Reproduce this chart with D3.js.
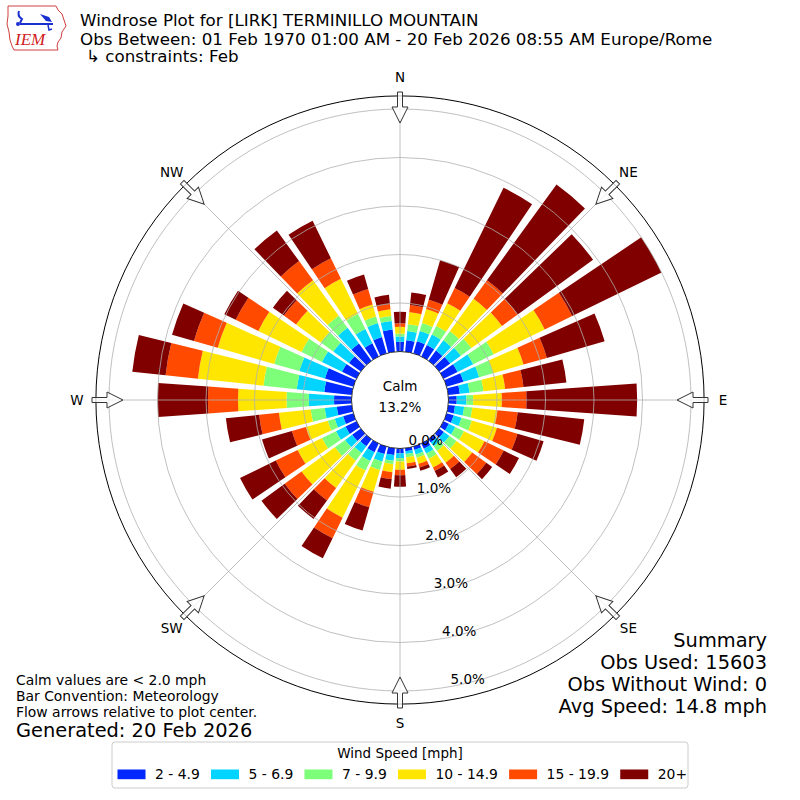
<!DOCTYPE html>
<html><head><meta charset="utf-8">
<script src="https://cdn.jsdelivr.net/npm/d3@7"></script>
<style>body{margin:0;background:#fff;} svg{display:block;font-family:"DejaVu Sans",sans-serif;}</style>
</head><body><svg id="c" width="800" height="800"></svg>
<script>
// ---------------- data ----------------
const directions = [0,10,20,30,40,50,60,70,80,90,100,110,120,130,140,150,160,170,180,190,200,210,220,230,240,250,260,270,280,290,300,310,320,330,340,350];
const speedBins = ["2 - 4.9","5 - 6.9","7 - 9.9","10 - 14.9","15 - 19.9","20+"];
const binColors = ["#0028ff","#00d4ff","#7dff7a","#ffe600","#ff4a00","#800000"];
// percent frequency per direction, for each speed bin
const speed2to5   = [0.20,0.24,0.26,0.26,0.26,0.28,0.32,0.36,0.24,0.17,0.14,0.15,0.12,0.12,0.08,0.12,0.07,0.06,0.10,0.14,0.16,0.20,0.18,0.22,0.25,0.22,0.31,0.36,0.57,0.61,0.33,0.30,0.44,0.30,0.35,0.46];
const speed5to7   = [0.11,0.19,0.22,0.24,0.26,0.27,0.36,0.34,0.20,0.20,0.19,0.17,0.15,0.14,0.10,0.11,0.10,0.06,0.10,0.12,0.16,0.20,0.17,0.18,0.22,0.18,0.25,0.52,0.57,0.55,0.46,0.40,0.40,0.33,0.30,0.18];
const speed7to10  = [0.06,0.14,0.17,0.20,0.23,0.27,0.47,0.30,0.29,0.14,0.17,0.22,0.20,0.18,0.12,0.12,0.07,0.07,0.07,0.07,0.18,0.22,0.20,0.26,0.32,0.15,0.29,0.46,0.69,0.54,0.47,0.32,0.31,0.35,0.14,0.10];
const speed10to15 = [0.14,0.25,0.30,0.52,0.83,0.78,1.17,0.65,0.45,0.59,0.52,0.54,0.47,0.40,0.30,0.20,0.13,0.12,0.17,0.17,0.47,1.08,0.69,0.85,0.56,0.47,0.66,1.00,1.36,1.21,0.99,0.63,0.90,0.80,0.26,0.14];
const speed15to20 = [0.07,0.15,0.20,0.35,0.47,0.40,0.63,0.50,0.38,0.51,0.42,0.44,0.44,0.36,0.16,0.08,0.08,0.07,0.11,0.14,0.33,0.47,0.32,0.43,0.50,0.30,0.41,0.62,0.67,0.51,0.52,0.31,0.49,0.47,0.33,0.11];
const speed20plus = [0.24,0.26,0.85,2.30,2.44,1.92,2.05,1.24,0.89,2.28,1.38,0.56,0.35,0.15,0.21,0.15,0.07,0.05,0.24,0.20,0.50,0.46,0.47,0.59,0.82,0.64,0.69,1.04,0.69,0.47,0.26,0.28,0.78,0.86,0.31,0.19];
const radialTicks = [0,1,2,3,4,5];
const compassLabels = ["N","NE","E","SE","S","SW","W","NW"];
const calmPct = 13.2;
const titleLines = ["Windrose Plot for [LIRK] TERMINILLO MOUNTAIN",
  "Obs Between: 01 Feb 1970 01:00 AM - 20 Feb 2026 08:55 AM Europe/Rome",
  "\u21B3 constraints: Feb"];
const summaryLines = ["Summary","Obs Used: 15603","Obs Without Wind: 0","Avg Speed: 14.8 mph"];
const noteLines = ["Calm values are < 2.0 mph","Bar Convention: Meteorology","Flow arrows relative to plot center."];
const generatedText = "Generated: 20 Feb 2026";

// ---------------- build ----------------
const svg = d3.select("#c");
const cx = 400, cy = 400;
const rScale = d3.scaleLinear().domain([0, 5]).range([48.5, 291]);
const rMax = 5.27;
const rad = d => d * Math.PI / 180;
const g = svg.append("g").attr("transform", `translate(${cx},${cy})`);

const series = [speed2to5, speed5to7, speed7to10, speed10to15, speed15to20, speed20plus];
const table = directions.map((d, i) => {
  const o = {dir: d};
  speedBins.forEach((k, j) => o[k] = series[j][i]);
  return o;
});
const stacked = d3.stack().keys(speedBins)(table);
const halfW = 4;
const arc = d3.arc()
  .innerRadius(d => rScale(d[0]))
  .outerRadius(d => rScale(d[1]))
  .startAngle(d => rad(d.data.dir - halfW))
  .endAngle(d => rad(d.data.dir + halfW));

stacked.forEach((s, j) => {
  g.append("g").selectAll("path").data(s).join("path")
    .attr("d", arc).attr("fill", binColors[j]);
});

// grid
g.append("g").selectAll("circle").data(radialTicks.slice(1)).join("circle")
  .attr("r", d => rScale(d)).attr("fill", "none").attr("stroke", "#b0b0b0").attr("stroke-width", 0.8);
g.append("g").selectAll("line").data(d3.range(0, 360, 45)).join("line")
  .attr("x1", d => rScale(0) * Math.sin(rad(d))).attr("y1", d => -rScale(0) * Math.cos(rad(d)))
  .attr("x2", d => rScale(rMax) * Math.sin(rad(d))).attr("y2", d => -rScale(rMax) * Math.cos(rad(d)))
  .attr("stroke", "#b0b0b0").attr("stroke-width", 0.8);
// calm hole
g.append("circle").attr("r", rScale(0)).attr("fill", "#fff").attr("stroke", "#000").attr("stroke-width", 0.8);
// outer circle
g.append("circle").attr("r", rScale(rMax)).attr("fill", "none").attr("stroke", "#000").attr("stroke-width", 1);

// radial tick labels
const labAng = rad(170);
g.append("g").selectAll("text").data(radialTicks).join("text")
  .attr("x", d => rScale(d) * Math.sin(labAng))
  .attr("y", d => -rScale(d) * Math.cos(labAng) - 3)
  .attr("font-size", 13.5).attr("text-anchor", "start")
  .text(d => d3.format(".1f")(d) + "%");

// compass labels
g.append("g").selectAll("text").data(compassLabels).join("text")
  .attr("x", (d, i) => 323 * Math.sin(rad(i * 45)))
  .attr("y", (d, i) => -323 * Math.cos(rad(i * 45)) + 5)
  .attr("font-size", 13.5).attr("text-anchor", "middle")
  .text(d => d);

// flow arrows
const arrowPts = [[-2.5,-308],[2.5,-308],[2.5,-293],[8,-293],[0,-277],[-8,-293],[-2.5,-293]];
g.append("g").selectAll("polygon").data(d3.range(0, 360, 45)).join("polygon")
  .attr("points", arrowPts.map(p => p.join(",")).join(" "))
  .attr("transform", d => `rotate(${d})`)
  .attr("fill", "#fff").attr("fill-opacity", 0.75).attr("stroke", "#333").attr("stroke-width", 1);

// calm text
g.append("text").attr("y", -9).attr("text-anchor", "middle").attr("font-size", 13.5).text("Calm");
g.append("text").attr("y", 12).attr("text-anchor", "middle").attr("font-size", 13.5).text(calmPct.toFixed(1) + "%");

// titles
const tsize = 16.7;
svg.append("text").attr("x", 80).attr("y", 25.5).attr("font-size", tsize).text(titleLines[0]);
svg.append("text").attr("x", 80).attr("y", 44.5).attr("font-size", tsize).text(titleLines[1]);
svg.append("text").attr("x", 86).attr("y", 61.5).attr("font-size", tsize).text(titleLines[2]);

// summary
svg.append("g").selectAll("text").data(summaryLines).join("text")
  .attr("x", 767).attr("y", (d, i) => 646.5 + i * 22).attr("text-anchor", "end")
  .attr("font-size", 19.4).text(d => d);

// notes
svg.append("g").selectAll("text").data(noteLines).join("text")
  .attr("x", 16).attr("y", (d, i) => 684.5 + i * 16).attr("font-size", 13.9).text(d => d);
svg.append("text").attr("x", 16).attr("y", 736.5).attr("font-size", 19.4).text(generatedText);

// legend
const leg = svg.append("g");
leg.append("rect").attr("x", 112).attr("y", 742).attr("width", 576).attr("height", 46).attr("rx", 3)
  .attr("fill", "#fff").attr("stroke", "#cccccc").attr("stroke-width", 1);
leg.append("text").attr("x", 400).attr("y", 757.5).attr("text-anchor", "middle").attr("font-size", 13.5).text("Wind Speed [mph]");
let lx = 117.5;
speedBins.forEach((k, j) => {
  leg.append("rect").attr("x", lx).attr("y", 769.5).attr("width", 28).attr("height", 9.7).attr("fill", binColors[j]);
  const t = leg.append("text").attr("x", lx + 37.5).attr("y", 779).attr("font-size", 13.9).text(k);
  lx = lx + 37.5 + t.node().getComputedTextLength() + 11.2;
});

// IEM logo (simplified)
const logo = svg.append("g");
logo.append("path").attr("d", "M8,6 L56,6 L58,10 L62,14 L64,20 L66,26 L62,32 L61,38 L58,42 L57,46 L58,50 L14,50 L12,46 L10,40 L9,32 L7,24 L8,16 Z")
  .attr("fill", "none").attr("stroke", "#d04040").attr("stroke-width", 1);
logo.append("path").attr("d", "M19,11 Q17,16 22,19 L20,23").attr("fill", "none").attr("stroke", "#1a2fd0").attr("stroke-width", 2);
logo.append("line").attr("x1", 20).attr("y1", 24).attr("x2", 53).attr("y2", 24).attr("stroke", "#1a2fd0").attr("stroke-width", 2);
logo.append("path").attr("d", "M40,14 L49,17 L52,22 L46,21 Z").attr("fill", "#1a2fd0");
logo.append("path").attr("d", "M48,25 L49,30 L52,29").attr("fill", "none").attr("stroke", "#1a2fd0").attr("stroke-width", 1.5);
logo.append("circle").attr("cx", 18).attr("cy", 24).attr("r", 2).attr("fill", "#1a2fd0");
logo.append("text").attr("x", 15).attr("y", 45).attr("font-family", "Liberation Serif").attr("font-style", "italic")
  .attr("font-size", 17).attr("fill", "#d02020").text("IEM");
</script></body></html>
